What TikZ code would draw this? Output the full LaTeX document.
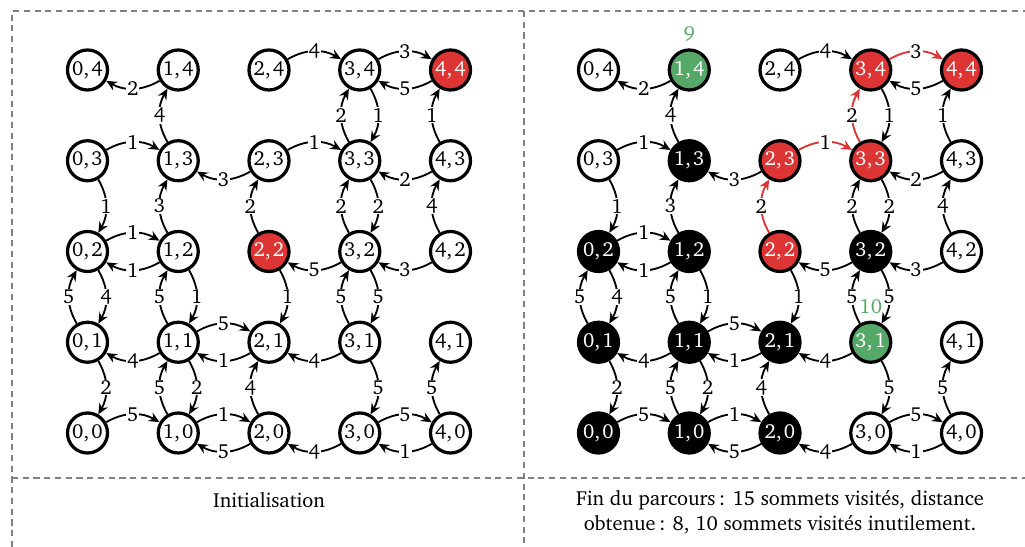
\documentclass[tikz,border=0pt]{standalone}
\usepackage[T1]{fontenc}
\usepackage{charter}
\usetikzlibrary{arrows.meta}

\definecolor{hotred}{RGB}{221,52,52}
\definecolor{okgreen}{RGB}{86,168,104}

\tikzset{
  vertex/.style={circle, draw=black, line width=1.75pt, minimum size=21.6pt, inner sep=0pt},
  wn/.style={vertex, fill=white, text=black},
  bn/.style={vertex, fill=black, text=white},
  rn/.style={vertex, fill=hotred, text=white},
  gn/.style={vertex, fill=okgreen, text=white},
  wedge/.style={line width=1pt, -{Stealth[length=5.8pt,width=5.2pt,inset=2pt]}, bend left=30},
  ink/.style={draw=black},
  wlabel/.style={midway, fill=white, inner sep=0.5pt, text=black},
  gridline/.style={draw=gray, line width=0.7pt, dash pattern=on 3.3pt off 2.5pt},
  tag/.style={text=okgreen},
}

% one grid panel: #1 name prefix, #2 x of column 0, #3 node styles
\newcommand\drawpanel[3]{%
  \foreach \ci/\cj/\cs in {#3} {
    \node[\cs] (#1\ci\cj) at ({#2+90.75*\ci},{70+90.75*(4-\cj)}) {\ci,\kern1.2pt\cj};
  }
  \foreach \src/\dst/\wt/\sty in {
    14/04/2/ink, 24/34/4/ink, 34/44/3/hot, 44/34/5/ink,
    03/13/1/ink, 23/13/3/ink, 23/33/1/hot, 43/33/2/ink,
    02/12/1/ink, 12/02/1/ink, 32/22/5/ink, 42/32/3/ink,
    11/01/4/ink, 11/21/5/ink, 21/11/1/ink, 31/21/4/ink,
    00/10/5/ink, 10/20/1/ink, 20/10/5/ink, 30/20/4/ink, 30/40/5/ink, 40/30/1/ink,
    13/14/4/ink, 33/34/2/hot, 34/33/1/ink, 43/44/1/ink,
    03/02/1/ink, 12/13/3/ink, 22/23/2/hot, 32/33/2/ink, 33/32/2/ink, 42/43/4/ink,
    01/02/5/ink, 02/01/4/ink, 11/12/5/ink, 12/11/1/ink, 22/21/1/ink, 31/32/5/ink, 32/31/5/ink,
    01/00/2/ink, 10/11/5/ink, 11/10/2/ink, 20/21/4/ink, 31/30/5/ink, 40/41/5/ink} {
    \draw[wedge,\sty] (#1\src) to node[wlabel] {\wt} (#1\dst);
  }
}

\begin{document}
\begin{tikzpicture}[x=0.54pt, y=-0.54pt, font=\fontsize{11}{13.5}\selectfont]
  \useasboundingbox (0,0) rectangle (1025,547);

  % dashed table rules
  \draw[gridline] (12,547) -- (12,11) -- (1025,11);
  \draw[gridline] (524,11) -- (524,547);
  \draw[gridline] (12,478) -- (1025,478);

  % initial state
  \begin{scope}[hot/.style={draw=black}]
    \drawpanel{L}{87.5}{
      0/4/wn, 1/4/wn, 2/4/wn, 3/4/wn, 4/4/rn,
      0/3/wn, 1/3/wn, 2/3/wn, 3/3/wn, 4/3/wn,
      0/2/wn, 1/2/wn, 2/2/rn, 3/2/wn, 4/2/wn,
      0/1/wn, 1/1/wn, 2/1/wn, 3/1/wn, 4/1/wn,
      0/0/wn, 1/0/wn, 2/0/wn, 3/0/wn, 4/0/wn}
  \end{scope}

  % end of the search
  \begin{scope}[hot/.style={draw=hotred}]
    \drawpanel{R}{598.5}{
      0/4/wn, 1/4/gn, 2/4/wn, 3/4/rn, 4/4/rn,
      0/3/wn, 1/3/bn, 2/3/rn, 3/3/rn, 4/3/wn,
      0/2/bn, 1/2/bn, 2/2/rn, 3/2/bn, 4/2/wn,
      0/1/bn, 1/1/bn, 2/1/bn, 3/1/gn, 4/1/wn,
      0/0/bn, 1/0/bn, 2/0/bn, 3/0/wn, 4/0/wn}
  \end{scope}

  \node[tag] (tag9) at ([yshift=8pt]R14.north) {9};
  \node[tag] (tag10) at ([yshift=7.3pt]R31.north) {10};

  % captions
  \node (capL) at (269,500) {Initialisation};
  \node[align=center] (capR) at (780,512)
    {Fin du parcours\,: 15 sommets visités, distance\\obtenue\,: 8, 10 sommets visités inutilement.};
\end{tikzpicture}
\end{document}
